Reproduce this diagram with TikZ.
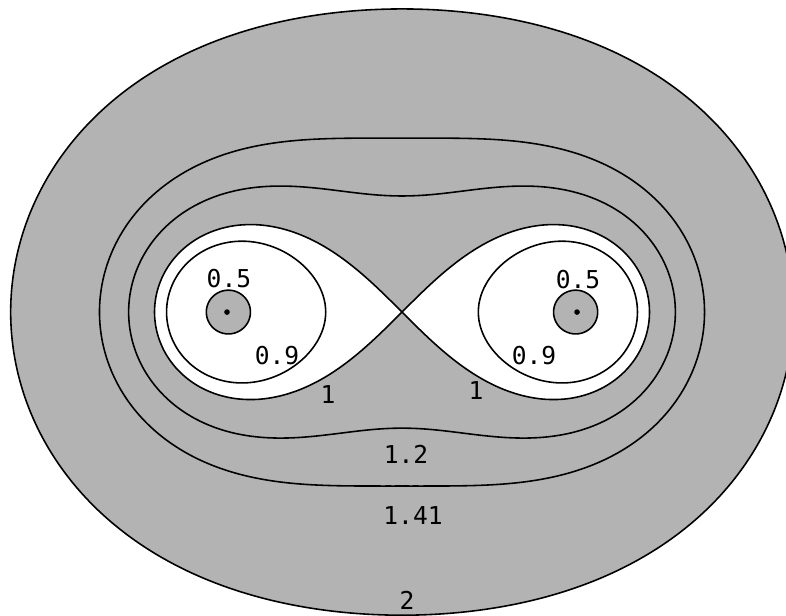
\documentclass[tikz,border=0pt]{standalone}
\usepackage{fontspec}
\setmonofont{DejaVu Sans Mono}
\usepackage{xcolor}
\usepackage{tikz}
\definecolor{shade}{RGB}{179,179,179}

\begin{document}
\begin{tikzpicture}[x=1.75cm, y=1.75cm, font=\ttfamily\fontsize{7}{8}\selectfont,
    curve/.style={black, line width=0.45pt}]
  \useasboundingbox (-2.297,-1.731) rectangle (2.194,1.783);
  \clip (-2.297,-1.731) rectangle (2.194,1.783);
  % outer ovals
  \filldraw[curve, fill=shade] plot[domain=0:360, samples=241, smooth, variable=\t]
    ({\t}:{sqrt(cos(2*\t)+sqrt(16-sin(2*\t)*sin(2*\t)))}) -- cycle;
  \foreach \b in {1.41,1.2}
    \draw[curve] plot[domain=0:360, samples=241, smooth, variable=\t]
      ({\t}:{sqrt(cos(2*\t)+sqrt(\b^4-sin(2*\t)*sin(2*\t)))}) -- cycle;
  % lemniscate
  \filldraw[curve, fill=white] plot[domain=0:360, samples=241, smooth, variable=\t]
    ({sqrt(2)*cos(\t)/(1+sin(\t)*sin(\t))},{sqrt(2)*sin(\t)*cos(\t)/(1+sin(\t)*sin(\t))}) -- cycle;
  % inner ovals
  \foreach \b/\s/\c in {0.9/1/white,0.9/-1/white,0.5/1/shade,0.5/-1/shade}
    \filldraw[curve, fill=\c] plot[domain=0:360, samples=121, smooth, variable=\t]
      ({\s*sqrt(sqrt(1+2*\b^2*cos(\t)+\b^4))*cos(atan2(\b^2*sin(\t),1+\b^2*cos(\t))/2)},
       {sqrt(sqrt(1+2*\b^2*cos(\t)+\b^4))*sin(atan2(\b^2*sin(\t),1+\b^2*cos(\t))/2)}) -- cycle;
  % foci
  \coordinate (fl) at (-1,0);
  \coordinate (fr) at (1,0);
  \fill (fl) circle (0.8pt);
  \fill (fr) circle (0.8pt);
  % labels
  \node (l05l) at (-0.989,0.189) {0.5};
  \node (l05r) at (1.006,0.183) {0.5};
  \node (l09l) at (-0.714,-0.246) {0.9};
  \node (l09r) at (0.754,-0.251) {0.9};
  \node (l1l) at (-0.423,-0.474) {1};
  \node (l1r) at (0.423,-0.451) {1};
  \node (l12) at (0.023,-0.811) {1.2};
  \node (l141) at (0.063,-1.16) {1.41};
  \node (l2) at (0.029,-1.646) {2};
\end{tikzpicture}
\end{document}
